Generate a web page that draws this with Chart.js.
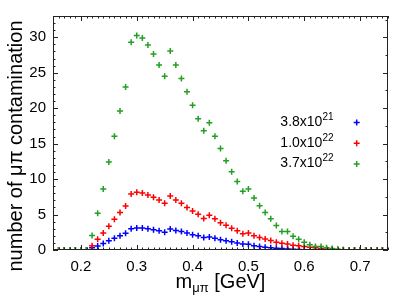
<!DOCTYPE html>
<html><head><meta charset="utf-8">
<script src="https://cdn.jsdelivr.net/npm/chart.js@4/dist/chart.umd.min.js"></script>
<style>html,body{margin:0;padding:0;background:#fff;overflow:hidden}</style>
</head><body>
<canvas id="c" width="399" height="299" style="width:399px;height:299px;display:block"></canvas>
<script>
// invariant mass bins (GeV)
const massGeV = [0.15,0.16,0.17,0.18,0.19,0.20,0.21,0.22,0.23,0.24,0.25,0.26,0.27,0.28,0.29,0.30,0.31,0.32,0.33,0.34,0.35,0.36,0.37,0.38,0.39,0.40,0.41,0.42,0.43,0.44,0.45,0.46,0.47,0.48,0.49,0.50,0.51,0.52,0.53,0.54,0.55,0.56,0.57,0.58,0.59,0.60,0.61,0.62,0.63,0.64,0.65,0.66,0.67,0.68,0.69,0.70,0.71,0.72,0.73,0.74,0.75];
// number of mu-pi contamination, POT = 3.8x10^21
const pot38e21 = [0,0,0,0,0,0,0,0.3,0.55,0.9,1.3,1.65,2.0,2.35,3.0,3.1,3.1,3.0,2.85,2.7,2.5,2.95,2.75,2.6,2.4,2.15,2.0,1.75,1.85,1.65,1.45,1.3,1.15,1.0,0.85,0.8,0.6,0.5,0.4,0.3,0.25,0.2,0.15,0.1,0.07,0.05,0.03,0.02,0,0,0,0,0,0,0,0,0,0,0,0,0];
// POT = 1.0x10^22
const pot10e22 = [0,0,0,0,0,0,0,0.6,1.5,2.4,3.35,4.35,5.3,6.2,7.9,8.15,8.05,7.75,7.45,7.05,6.6,7.6,7.05,6.6,6.0,5.5,5.05,4.45,4.9,4.4,3.85,3.5,3.05,2.7,2.3,2.4,2.0,1.75,1.55,1.35,1.1,0.95,0.85,0.68,0.6,0.5,0.38,0.3,0.22,0.15,0.1,0.06,0.03,0,0,0,0,0,0,0,0];
// POT = 3.7x10^22
const pot37e22 = [0,0,0,0,0,0,0,2.05,5.2,8.6,12.4,16.05,19.6,23.0,29.3,30.25,29.9,28.9,27.65,26.1,24.5,28.05,26.1,24.2,22.3,20.4,18.5,16.8,17.95,16.05,14.3,12.6,11.05,9.65,8.3,8.6,7.35,6.25,5.3,4.4,3.45,2.6,2.6,1.95,1.5,1.1,0.75,0.5,0.5,0.3,0.2,0.1,0.05,0,0,0,0,0,0,0,0];

const seriesMantissa = ['3.8x10','1.0x10','3.7x10'];
const seriesExponent = ['21','22','22'];
const xTickValues = [0.2,0.3,0.4,0.5,0.6,0.7];
const yTickValues = [0,5,10,15,20,25,30];
const xMin = 0.15, xMax = 0.75, yMin = 0, yMax = 33;
const yTitle = 'number of \u03bc\u03c0 contamination';
const xTitleMain = 'm', xTitleSub = '\u03bc\u03c0', xTitleUnit = ' [GeV]';

const colors = ['#0000ff','#ff0000','#23a023'];
const FONT = '"Liberation Sans", Arial, sans-serif';

function pts(ys){ return massGeV.map((x,i)=>({x:x,y:ys[i]})); }
const allSeries = [pot38e21, pot10e22, pot37e22];

const datasets = allSeries.map((ys,i)=>({
  label: seriesMantissa[i] + seriesExponent[i],
  data: pts(ys),
  pointStyle: 'cross',
  pointRadius: 3,
  pointBorderWidth: 1.5,
  borderColor: colors[i],
  backgroundColor: colors[i],
  showLine: false,
  order: 2 - i
}));

function drawCross(ctx, x, y, r, col){
  ctx.save(); ctx.strokeStyle = col; ctx.lineWidth = 1.5;
  ctx.beginPath(); ctx.moveTo(x-r,y); ctx.lineTo(x+r,y); ctx.moveTo(x,y-r); ctx.lineTo(x,y+r); ctx.stroke();
  ctx.restore();
}

const decor = {
  id: 'decor',
  afterDraw(chart){
    const ctx = chart.ctx, a = chart.chartArea, xs = chart.scales.x, ys = chart.scales.y;
    ctx.save();
    // frame
    ctx.strokeStyle = '#222'; ctx.lineWidth = 1;
    ctx.strokeRect(Math.round(a.left)+0.5, Math.round(a.top)+0.5, Math.round(a.right-a.left)-1, Math.round(a.bottom-a.top)-1);
    // x ticks
    ctx.beginPath();
    for (let k = 15; k <= 75; k++){
      const v = k/100; const px = Math.round(xs.getPixelForValue(v))+0.5;
      const major = (k % 10 === 0); const L = major ? 5 : 2.5;
      ctx.moveTo(px, a.bottom); ctx.lineTo(px, a.bottom - L);
      ctx.moveTo(px, a.top); ctx.lineTo(px, a.top + L);
    }
    // y ticks left
    for (let k = 0; k <= 33; k++){
      const py = Math.round(ys.getPixelForValue(k))+0.5;
      const L = (k % 5 === 0) ? 5 : 2.5;
      ctx.moveTo(a.left, py); ctx.lineTo(a.left + L, py);
    }
    // y ticks right
    for (let k = 0; k <= 33; k += 2.5){
      const py = Math.round(ys.getPixelForValue(k))+0.5;
      const L = (k % 5 === 0) ? 5 : 2.5;
      ctx.moveTo(a.right, py); ctx.lineTo(a.right - L, py);
    }
    ctx.stroke();

    // y title
    ctx.fillStyle = '#000';
    ctx.save();
    ctx.translate(22, 146);
    ctx.rotate(-Math.PI/2);
    ctx.font = '20px ' + FONT;
    ctx.textAlign = 'center'; ctx.textBaseline = 'alphabetic';
    ctx.fillText(yTitle, 0, 0);
    ctx.restore();

    // x title with subscript
    ctx.font = '20px ' + FONT;
    const wM = ctx.measureText(xTitleMain).width;
    ctx.font = '13px ' + FONT;
    const wS = ctx.measureText(xTitleSub).width;
    ctx.font = '20px ' + FONT;
    const wU = ctx.measureText(xTitleUnit).width;
    const total = wM + wS + wU;
    let x0 = (a.left + a.right)/2 - total/2;
    const base = 288;
    ctx.textAlign = 'left'; ctx.textBaseline = 'alphabetic';
    ctx.fillText(xTitleMain, x0, base);
    ctx.font = '13px ' + FONT;
    ctx.fillText(xTitleSub, x0 + wM, base + 4);
    ctx.font = '20px ' + FONT;
    ctx.fillText(xTitleUnit, x0 + wM + wS, base);

    // legend
    const baselines = [126, 146.7, 167.3];
    for (let i = 0; i < 3; i++){
      const b = baselines[i];
      ctx.font = '10px ' + FONT;
      const we = ctx.measureText(seriesExponent[i]).width;
      const right = 333.5;
      ctx.textAlign = 'left';
      ctx.fillText(seriesExponent[i], right - we, b - 6);
      ctx.font = '14px ' + FONT;
      ctx.textAlign = 'right';
      ctx.fillText(seriesMantissa[i], right - we, b);
      drawCross(ctx, 356.7, b - 3.4, 3, colors[i]);
    }
    ctx.restore();
  }
};

new Chart(document.getElementById('c'), {
  type: 'scatter',
  data: { datasets: datasets },
  options: {
    responsive: false,
    devicePixelRatio: 1,
    animation: false,
    events: [],
    layout: { padding: { left: 0, right: 11, top: 7, bottom: 0 } },
    plugins: { legend: { display: false }, tooltip: { enabled: false } },
    scales: {
      x: {
        type: 'linear', min: xMin, max: xMax,
        afterFit(s){ s.height = 49; },
        afterBuildTicks(s){ s.ticks = xTickValues.map(v=>({value:v})); },
        grid: { display: false, drawTicks: false },
        border: { display: false },
        ticks: { padding: 8, color: '#000', font: { family: FONT, size: 15 }, maxRotation: 0, autoSkip: false,
                 callback: v => Number(v).toFixed(1) }
      },
      y: {
        type: 'linear', min: yMin, max: yMax,
        afterFit(s){ s.width = 53; },
        afterBuildTicks(s){ s.ticks = yTickValues.map(v=>({value:v})); },
        grid: { display: false, drawTicks: false },
        border: { display: false },
        ticks: { padding: 7, color: '#000', font: { family: FONT, size: 15 }, autoSkip: false,
                 callback: v => String(v) }
      }
    }
  },
  plugins: [decor]
});
</script>
</body></html>
